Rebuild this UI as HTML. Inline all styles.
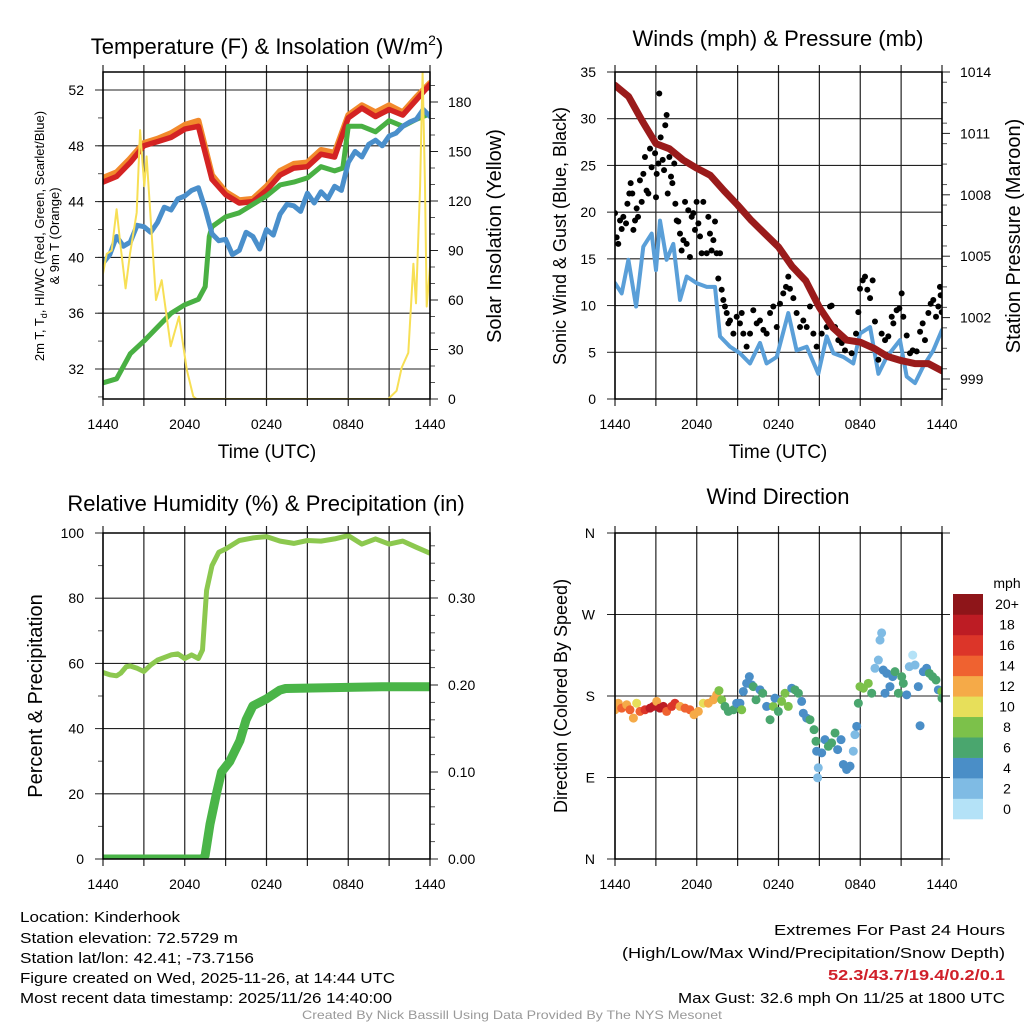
<!DOCTYPE html>
<html><head><meta charset="utf-8">
<style>
html,body{margin:0;padding:0;background:#fff;}
svg{display:block;font-family:"Liberation Sans",sans-serif;}
</style></head>
<body>
<svg id="fig" width="1024" height="1024" viewBox="0 0 1024 1024" xmlns="http://www.w3.org/2000/svg">
<rect width="1024" height="1024" fill="#fff"/>
<!-- titles -->
<text x="267" y="54" font-size="22" text-anchor="middle">Temperature (F) &amp; Insolation (W/m<tspan dy="-9" font-size="14">2</tspan><tspan dy="9">)</tspan></text>
<text x="778" y="46" font-size="22" text-anchor="middle">Winds (mph) &amp; Pressure (mb)</text>
<text x="266" y="511" font-size="22" text-anchor="middle">Relative Humidity (%) &amp; Precipitation (in)</text>
<text x="778" y="504" font-size="22" text-anchor="middle">Wind Direction</text>
<!-- axis titles -->
<text x="267" y="458" font-size="19" text-anchor="middle">Time (UTC)</text>
<text x="778" y="458" font-size="19" text-anchor="middle">Time (UTC)</text>
<g font-size="13" text-anchor="middle">
<text transform="translate(44,236) rotate(-90)">2m T, T<tspan font-size="9" dy="3">d</tspan><tspan dy="-3">, HI/WC (Red, Green, Scarlet/Blue)</tspan></text>
<text transform="translate(59,236) rotate(-90)">&amp; 9m T (Orange)</text>
</g>
<text transform="translate(501,236) rotate(-90)" font-size="20" text-anchor="middle">Solar Insolation (Yellow)</text>
<text transform="translate(566,236) rotate(-90)" font-size="18" text-anchor="middle">Sonic Wind &amp; Gust (Blue, Black)</text>
<text transform="translate(1020,236) rotate(-90)" font-size="20" text-anchor="middle">Station Pressure (Maroon)</text>
<text transform="translate(42,696) rotate(-90)" font-size="20" text-anchor="middle">Percent &amp; Precipitation</text>
<text transform="translate(567,696) rotate(-90)" font-size="18" text-anchor="middle">Direction (Colored By Speed)</text>
<!-- footer -->
<g font-size="15">
<text x="20" y="922" textLength="160" lengthAdjust="spacingAndGlyphs">Location: Kinderhook</text>
<text x="20" y="943" textLength="218" lengthAdjust="spacingAndGlyphs">Station elevation: 72.5729 m</text>
<text x="20" y="963" textLength="234" lengthAdjust="spacingAndGlyphs">Station lat/lon: 42.41; -73.7156</text>
<text x="20" y="983" textLength="375" lengthAdjust="spacingAndGlyphs">Figure created on Wed, 2025-11-26, at 14:44 UTC</text>
<text x="20" y="1003" textLength="372" lengthAdjust="spacingAndGlyphs">Most recent data timestamp: 2025/11/26 14:40:00</text>
</g>
<g font-size="15">
<text x="774" y="935" textLength="231" lengthAdjust="spacingAndGlyphs">Extremes For Past 24 Hours</text>
<text x="622" y="958" textLength="383" lengthAdjust="spacingAndGlyphs">(High/Low/Max Wind/Precipitation/Snow Depth)</text>
<text x="828" y="980" textLength="177" lengthAdjust="spacingAndGlyphs" font-weight="bold" fill="#d0202a">52.3/43.7/19.4/0.2/0.1</text>
<text x="678" y="1003" textLength="327" lengthAdjust="spacingAndGlyphs">Max Gust: 32.6 mph On 11/25 at 1800 UTC</text>
</g>
<text x="302" y="1019" font-size="12" fill="#999" textLength="420" lengthAdjust="spacingAndGlyphs">Created By Nick Bassill Using Data Provided By The NYS Mesonet</text>
</svg>
<script>
// ---------- DATA ----------
const timeLabels = ["1440","2040","0240","0840","1440"];
const hourly = [0,1,2,3,4,5,6,7,8,9,10,11,12,13,14,15,16,17,18,19,20,21,22,23,24];
const tempRed = [45.4,45.8,46.8,48.0,48.3,48.6,49.2,49.4,45.6,44.5,43.9,44.0,44.8,45.9,46.4,46.5,47.4,47.2,50.0,50.7,50.1,50.6,50.2,51.3,52.4];
const tempOrange = [45.7,46.1,47.1,48.2,48.5,48.9,49.5,49.8,45.9,44.7,44.1,44.2,45.1,46.2,46.7,46.8,47.7,47.5,50.2,50.9,50.4,50.9,50.4,51.5,52.5];
const dewTimes = [0,1,2,3,4,5,6,7,7.5,7.8,8,9,10,11,12,13,14,15,16,17,17.6,18,19,20,21,22,23,24];
const dewGreen = [31.0,31.3,33.1,34.0,35.0,36.0,36.6,37.0,37.9,41.5,42.2,42.9,43.2,43.8,44.4,45.2,45.4,45.7,46.5,46.2,46.4,49.4,49.4,49.0,49.8,49.4,49.9,50.3];
const wcTimes = [0,0.5,1,1.5,2,2.5,3,3.5,4,4.5,5,5.5,6,6.5,7,7.5,8,8.5,9,9.5,10,10.5,11,11.5,12,12.5,13,13.5,14,14.5,15,15.5,16,16.5,17,17.5,18,18.5,19,19.5,20,20.5,21,21.5,22,22.5,23,23.5,24];
const wcBlue = [39.6,40.2,41.5,40.8,41.1,42.3,42.2,41.8,42.5,43.6,43.4,44.2,44.4,44.8,45.0,43.5,41.7,41.2,41.3,40.2,40.5,41.8,41.5,40.6,42.0,41.6,43.1,43.8,43.7,43.3,44.6,43.9,44.7,44.2,45.1,44.8,46.8,47.6,47.2,48.1,48.4,48.0,48.7,48.9,49.4,49.7,49.9,50.6,50.1];
const solarTimes = [0,0.27,0.64,1.0,1.3,1.66,1.98,2.47,2.72,3.03,3.2,3.89,4.31,4.97,5.58,6.14,6.63,6.87,20.94,21.55,21.92,22.41,22.78,22.97,23.27,23.46,23.63,23.76,24];
const solarYellow = [76,88,90,115,92,67,88,113,163,129,147,60,72,32,50,18,1.5,0,0,5,19,28,82,58,129,198,129,56,80];
const windTimes = [0,0.49,0.98,1.55,2.08,2.69,3.01,3.30,3.79,4.28,4.77,5.26,5.99,6.73,7.34,7.71,8.44,9.17,9.91,10.64,11.13,11.87,12.72,13.33,14.07,14.92,15.54,16.03,16.76,17.49,17.98,18.72,19.33,19.94,20.92,21.41,22.02,22.63,23.36,24];
const windBlue = [12.4,11.3,14.9,9.9,16.3,17.7,13.8,19.1,14.9,16.6,10.6,13.1,12.4,12.0,12.0,6.7,5.6,4.9,3.8,6.0,3.8,4.5,9.2,5.2,5.6,2.7,6.7,4.9,4.5,3.8,7.0,7.7,2.7,4.5,6.3,2.4,1.7,3.5,5.2,7.4];
const pressure = [1013.35,1012.8,1011.6,1010.5,1010.25,1009.7,1009.3,1008.95,1008.2,1007.5,1006.75,1006.1,1005.45,1004.5,1003.8,1002.5,1001.5,1000.9,1000.8,1000.5,1000.1,999.9,999.75,999.75,999.4];
const gustTimes = [0,0.12,0.24,0.37,0.49,0.61,0.81,0.91,1.05,1.15,1.27,1.35,1.47,1.59,1.69,1.83,1.96,2.08,2.2,2.32,2.45,2.57,2.69,2.94,3.01,3.06,3.18,3.25,3.35,3.5,3.6,3.69,3.79,3.87,3.99,4.11,4.21,4.35,4.43,4.53,4.65,4.77,4.89,5.02,5.14,5.26,5.38,5.5,5.63,5.75,5.87,5.99,6.12,6.24,6.36,6.48,6.73,6.85,6.97,7.09,7.22,7.34,7.46,7.58,7.71,7.83,7.95,8.07,8.2,8.32,8.44,8.69,8.93,9.17,9.3,9.42,9.66,9.91,10.15,10.4,10.64,10.89,11.13,11.38,11.62,11.87,12.11,12.35,12.55,12.72,12.84,13.09,13.33,13.58,13.82,14.07,14.31,14.56,14.8,15.17,15.54,15.78,15.9,16.15,16.39,16.64,16.88,17.13,17.37,17.69,17.86,17.98,18.18,18.35,18.52,18.72,18.91,19.08,19.33,19.57,19.82,20.06,20.31,20.43,20.67,20.87,21.04,21.16,21.41,21.65,21.85,22.14,22.39,22.58,22.75,23.0,23.17,23.36,23.56,23.73,23.85,23.98,23.9];
const gustSpeed = [19.9,17.3,16.6,19.1,18.2,19.5,18.8,20.9,22.0,23.1,22.0,18.1,19.1,20.4,19.5,23.4,21.1,24.1,25.9,22.3,22.0,26.8,24.8,26.3,21.6,24.1,25.2,32.7,28.0,25.6,24.5,29.3,30.4,22.0,25.9,23.8,23.1,25.2,20.9,19.1,19.0,17.7,15.9,17.0,21.1,16.6,20.2,15.2,19.5,19.9,18.1,21.1,18.8,17.4,15.6,21.1,15.6,19.5,17.7,15.9,17.0,19.0,15.6,12.9,15.6,11.7,10.6,9.9,9.2,8.1,8.4,7.0,8.8,8.1,9.2,7.0,5.6,7.0,9.5,8.1,8.4,7.4,7.0,9.2,9.9,7.7,10.2,11.3,12.0,13.1,11.8,10.8,9.2,7.7,8.4,7.7,9.9,7.0,5.6,7.0,7.7,9.9,10.0,7.7,6.3,6.0,5.2,6.3,4.9,7.0,9.3,11.8,12.7,13.1,11.7,10.8,12.7,8.3,4.2,7.0,6.3,6.7,8.8,8.1,9.5,9.7,11.3,8.8,6.8,4.9,5.2,5.1,7.2,8.1,6.3,9.2,10.2,10.6,8.8,9.9,12.0,9.3,11.1];
const rhTimes = [0,0.5,1,1.3,1.7,2,2.5,3,3.5,4,5,5.5,6,6.5,7,7.3,7.6,8,8.5,9,10,11,12,13,14,15,16,17,18,19,20,21,22,23,24];
const rhValues = [57.2,56.5,56.2,57.0,59.0,59.2,58.5,57.5,59.5,61.0,62.6,62.9,61.5,62.6,61.5,64.1,82.4,90.0,94.1,95.1,97.7,98.5,98.9,97.5,96.8,97.7,97.5,98.2,99.2,96.6,98.2,96.6,97.5,95.6,93.8];
const precipTimes = [0,7.3,7.49,7.85,8.34,8.7,9.3,10.05,10.5,11.0,12,12.96,13.4,20.6,24];
const precipValues = [0,0,0.004,0.04,0.076,0.10,0.112,0.136,0.16,0.176,0.184,0.194,0.196,0.198,0.198];
const dirTimes = [0,0.24,0.49,0.86,1.1,1.35,1.59,1.83,2.2,2.57,2.81,3.06,3.3,3.55,3.79,4.16,4.4,4.77,5.14,5.5,5.8,6.12,6.48,6.85,7.22,7.46,7.63,7.83,8.07,8.32,8.69,8.93,9.17,9.3,9.42,9.66,9.86,10.03,10.15,10.35,10.64,10.84,11.13,11.38,11.62,11.74,11.99,12.23,12.48,12.72,12.97,13.21,13.46,13.7,13.82,14.07,14.31,14.61,14.75,14.8,14.92,14.87,15.17,15.41,15.66,15.9,16.15,16.34,16.59,16.76,17.0,17.25,17.49,17.61,17.74,17.86,17.98,18.23,18.59,18.84,19.08,19.33,19.45,19.57,19.69,19.82,19.94,20.18,20.38,20.55,20.8,21.04,21.16,21.41,21.6,21.85,22.02,22.26,22.39,22.63,22.87,23.07,23.31,23.56,23.73,23.98,24];
const dirDegrees = [164.8,172,166.6,170.3,164.8,155.6,172,163,164.8,166.6,168.5,174,166.6,168.5,163,168.5,172,168.5,166.6,164.8,159.3,163,172,172,175.8,181.3,186,175.8,168.5,163,164.8,172,172,164.8,185,194,201.4,192.3,190.4,175.8,186.8,183.1,168.5,153.8,168.5,177.6,163,174,183.1,168.5,188.6,186.8,183.1,174,161,155.6,153.8,142.8,130,119,100.7,89.7,117.2,131.8,124.5,128.2,139.2,120.8,131.8,104.4,98.9,102.5,119,137.3,146.5,172,190.4,188.6,194,183.1,210.6,219.7,241.7,249.7,208.7,183.1,205,190.4,201.4,206.9,183.1,201.4,194,181.3,212.4,225.2,214.2,190.4,147.2,206.9,210.6,205,201.4,197.7,186.8,185,177.6];
const dirSpeed = [12,12,14,12,14,12,10,14,16,18,18,12,18,18,14,16,16,12,14,14,12,12,10,12,12,12,8,8,6,6,6,4,4,8,4,4,4,4,6,6,4,6,4,6,8,4,6,8,8,8,4,6,6,4,4,4,6,6,6,4,2,2,4,4,6,6,6,4,4,4,4,4,2,2,4,6,8,8,8,6,2,2,2,2,4,4,4,4,4,6,6,6,6,4,2,0,2,4,4,4,4,6,6,6,4,8,6];
const scaleLabels = ["0","2","4","6","8","10","12","14","16","18","20+"];
const scaleColors = ["#b4e2f7","#7fbbe4","#4a8ec7","#4aa66e","#7cc14a","#e7df5a","#f5aa48","#ef6230","#dc3529","#bd1c24","#8e1519"];

// ---------- HELPERS ----------
const NS = "http://www.w3.org/2000/svg";
const fig = document.getElementById("fig");
function mk(tag, attrs, parent) {
  const e = document.createElementNS(NS, tag);
  for (const k in attrs) e.setAttribute(k, attrs[k]);
  (parent || fig).appendChild(e);
  return e;
}
function linScale(d0, d1, r0, r1) { return v => r0 + (v - d0) * (r1 - r0) / (d1 - d0); }

function panel(id, x0, x1, y0, y1) {
  const g = mk("g", {});
  
  
  const cp = mk("clipPath", {id: id + "-clip"}, g);
  mk("rect", {x: x0, y: y0, width: x1 - x0, height: y1 - y0}, cp);
  const xs = linScale(0, 24, x0, x1);
  // vertical grid every 3 h
  for (let h = 0; h <= 24; h += 3) {
    const gx = xs(h);
    const l = mk("line", {x1: gx, x2: gx, y1: y0 - 7, y2: y1 + 7, stroke: "#222", "stroke-width": 1.2}, g);
    
    
  }
  timeLabels.forEach((t, i) => {
    const tx = mk("text", {x: xs(i * 6), y: y1 + 30, "font-size": 14, "text-anchor": "middle"}, g);
    
    
    tx.textContent = t;
  });
  return {g, xs, x0, x1, y0, y1, clip: "url(#" + id + "-clip)"};
}
function hgrid(p, yv) {
  const l = mk("line", {x1: p.x0, x2: p.x1, y1: yv, y2: yv, stroke: "#222", "stroke-width": 1.1}, p.g);
  
  
}
function leftLabel(p, yv, txt) {
  mk("line", {x1: p.x0 - 8, x2: p.x0, y1: yv, y2: yv, stroke: "#222"}, p.g);
  const t = mk("text", {x: p.x0 - 19, y: yv + 5, "font-size": 14, "text-anchor": "end"}, p.g);
  
  
  t.textContent = txt;
}
function rightLabel(p, yv, txt) {
  mk("line", {x1: p.x1, x2: p.x1 + 8, y1: yv, y2: yv, stroke: "#222"}, p.g);
  const t = mk("text", {x: p.x1 + 18, y: yv + 5, "font-size": 14}, p.g);
  
  
  t.textContent = txt;
}
function minor(p, yv, side) {
  const a = side === "left" ? p.x0 - 5 : p.x1, b = side === "left" ? p.x0 : p.x1 + 5;
  mk("line", {x1: a, x2: b, y1: yv, y2: yv, stroke: "#555", "stroke-width": 1}, p.g);
}
function frame(p) {
  const r = mk("rect", {x: p.x0, y: p.y0, width: p.x1 - p.x0, height: p.y1 - p.y0, fill: "none", stroke: "#000", "stroke-width": 1.5}, p.g);
  
  
}
function series(p, ts, vs, ys, color, w, name) {
  let d = "";
  ts.forEach((t, i) => { d += (i ? "L" : "M") + p.xs(t).toFixed(1) + "," + ys(vs[i]).toFixed(1); });
  const path = mk("path", {d, fill: "none", stroke: color, "stroke-width": w, "stroke-linejoin": "round", "stroke-linecap": "round", "clip-path": p.clip}, p.g);
  
  
}

// ---------- PANEL 1: Temperature ----------
const p1 = panel("temp", 103, 430, 72, 399);
const tY = linScale(32, 52, 369, 90);
const sY = linScale(0, 180, 399, 102);
for (let v = 30; v <= 53; v += 2) { if (tY(v) > 72 && tY(v) < 399) minor(p1, tY(v), "left"); }
for (let v = 32; v <= 52; v += 4) { hgrid(p1, tY(v)); leftLabel(p1, tY(v), String(v)); }
for (let v = 0; v <= 190; v += 10) { if (sY(v) >= 72) minor(p1, sY(v), "right"); }
for (let v = 0; v <= 180; v += 30) rightLabel(p1, sY(v), String(v));
series(p1, hourly, tempOrange, tY, "#f28a2c", 6, "temp-9m-orange-line");
series(p1, hourly, tempRed, tY, "#d42323", 5.5, "temp-2m-red-line");
series(p1, dewTimes, dewGreen, tY, "#49b043", 5, "dewpoint-green-line");
series(p1, wcTimes, wcBlue, tY, "#4a8fcb", 5, "windchill-blue-line");
series(p1, solarTimes, solarYellow, sY, "#f7df55", 2, "insolation-yellow-line");
frame(p1);

// ---------- PANEL 2: Winds ----------
const p2 = panel("wind", 615, 942, 72, 399);
const wY = linScale(0, 35, 399, 72);
const pY = linScale(999, 1014, 379, 72);
for (let v = 0; v <= 35; v += 5) { hgrid(p2, wY(v)); leftLabel(p2, wY(v), String(v)); }
for (let v = 998.5; v <= 1014; v += 1) minor(p2, pY(v), "right");
for (let v = 999; v <= 1014; v += 3) rightLabel(p2, pY(v), String(v));
series(p2, windTimes, windBlue, wY, "#5a9fd8", 4, "sonic-wind-blue-line");
gustTimes.forEach((t, i) => {
  const c = mk("circle", {cx: p2.xs(t), cy: wY(gustSpeed[i]), r: 3, fill: "#000", "clip-path": p2.clip}, p2.g);
  
  
});
series(p2, hourly, pressure, pY, "#9a1b1b", 7, "pressure-maroon-line");
frame(p2);

// ---------- PANEL 3: RH & Precip ----------
const p3 = panel("rh", 103, 430, 533, 859);
const rY = linScale(0, 100, 859, 533);
const prY = linScale(0, 0.2, 859, 685);
for (let v = 10; v <= 90; v += 20) minor(p3, rY(v), "left");
for (let v = 0; v <= 100; v += 20) { hgrid(p3, rY(v)); leftLabel(p3, rY(v), String(v)); }
for (let v = 0.02; v <= 0.37; v += 0.02) minor(p3, prY(v), "right");
["0.00","0.10","0.20","0.30"].forEach((s, i) => rightLabel(p3, prY(i * 0.1), s));
series(p3, rhTimes, rhValues, rY, "#8cc84f", 5, "relative-humidity-line");
series(p3, precipTimes, precipValues, prY, "#4ab548", 9, "precipitation-line");
frame(p3);

// ---------- PANEL 4: Wind Direction ----------
const p4 = panel("dir", 615, 942, 533, 859);
const dY = linScale(0, 360, 859, 533);
["N","E","S","W","N"].forEach((s, i) => {
  const yv = dY(i * 90);
  hgrid(p4, yv);
  mk("line", {x1: p4.x0 - 8, x2: p4.x0, y1: yv, y2: yv, stroke: "#222"}, p4.g);
  mk("line", {x1: p4.x1, x2: p4.x1 + 8, y1: yv, y2: yv, stroke: "#222"}, p4.g);
  const t = mk("text", {x: p4.x0 - 20, y: yv + 5, "font-size": 14, "text-anchor": "end"}, p4.g);
  
  
  t.textContent = s;
});
dirTimes.forEach((t, i) => {
  const idx = Math.min(10, Math.round(dirSpeed[i] / 2));
  const c = mk("circle", {cx: p4.xs(t), cy: dY(dirDegrees[i]), r: 4.5, fill: scaleColors[idx], "clip-path": p4.clip}, p4.g);
  
  
});
frame(p4);
// colorbar
const cb = mk("g", {});


const mph = mk("text", {x: 1007, y: 588, "font-size": 14, "text-anchor": "middle"}, cb);


mph.textContent = "mph";
const boxH = (819 - 594) / scaleLabels.length;
scaleLabels.forEach((s, i) => {
  const yTop = 819 - (i + 1) * boxH;
  const r = mk("rect", {x: 953, y: yTop, width: 30, height: boxH + 0.3, fill: scaleColors[i]}, cb);
  
  
  const t = mk("text", {x: 1007, y: yTop + boxH / 2 + 5, "font-size": 14, "text-anchor": "middle"}, cb);
  
  
  t.textContent = s;
});
</script>
</body></html>
